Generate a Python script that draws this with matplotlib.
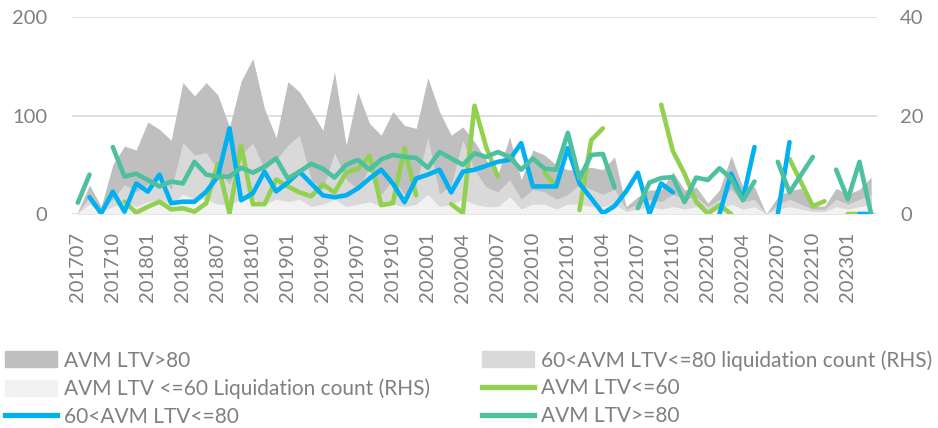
import numpy as np
import matplotlib
matplotlib.use("Agg")
import matplotlib.pyplot as plt
from matplotlib.patches import Patch
from matplotlib.lines import Line2D

plt.rcParams['font.family'] = ['Lato', 'DejaVu Sans']

nan = np.nan

# Tick labels (every third month from 201707)
tick_labels = ["201707", "201710", "201801", "201804", "201807", "201810",
               "201901", "201904", "201907", "201910", "202001", "202004",
               "202007", "202010", "202101", "202104", "202107", "202110",
               "202201", "202204", "202207", "202210", "202301"]

# Liquidation counts (RHS) - visible top of each area
area_ltv_gt80 = [0.5, 5.9, 1.5, 10, 13.8, 13, 18.7, 17.2, 15, 26.7, 24, 26.7, 24.2, 17.7,
                 27, 31.6, 21.4, 15.5, 26.9, 24.8, 21, 17, 28.9, 14, 24.8, 18.4, 16, 20.8,
                 18, 17.4, 27.7, 20.8, 16, 17.7, 14.7, 11, 8, 15.7, 7, 13, 12, 10, 9, 9,
                 9.5, 9, 11.6, 1.5, 3.5, 4.9, 4.9, 8.6, 4.9, 5.5, 2.2, 4.9, 11.8, 5.5, 5.5,
                 0, 3.5, 4.8, 5.2, 1.6, 1.6, 5.2, 4, 5, 7.5]
area_ltv_60_80 = [0.3, 3.5, 0.8, 3, 6, 4.5, 6, 8.5, 5, 14.5, 12, 12.5, 9, 6, 12, 14.5, 9,
                  11, 14, 16, 7, 5, 12.5, 7, 5, 9.5, 4, 7, 4, 6, 15.5, 4, 6, 15, 9, 5.5,
                  4.5, 7, 3, 5, 4.5, 3, 4, 6, 5, 4, 5, 1, 2, 3, 2.5, 4, 3, 3.5, 1.5, 3, 5,
                  2.5, 3, 0, 2, 3, 2, 1, 1, 3, 2, 3, 4]
area_ltv_le60 = [0.2, 2, 0.5, 1.5, 2.5, 1.5, 2.5, 3, 2, 4, 3, 3, 2, 2, 3, 3, 2, 3, 2.5, 3,
                 1.5, 2, 3, 1.5, 2, 2.5, 1.5, 2, 1.5, 2, 4, 1.5, 2, 3, 2, 1.5, 1.5, 3.5, 1,
                 2, 2, 1, 2, 2, 1.5, 1.5, 2, 0.5, 1, 1.5, 1, 1.5, 1, 1.5, 0.5, 1, 2, 1,
                 1.5, 0, 1, 1.5, 1, 0.5, 0.5, 1.5, 1, 1.5, 2]

# Lines (LHS)
line_ltv_le60 = [nan, nan, nan, nan, 12.5, 1.4, 7.4, 12.5, 4.7, 5.8, 2.4, 10.8, 51, 0.7,
                 69, 10, 10, 35, 28, 22, 18, 30, 22, 42, 46, 59, 9, 11, 67, 19, nan, nan,
                 10, 1, 110, 68, 38, nan, nan, nan, 42, 28, nan, 4, 75, 87, nan, nan, nan,
                 nan, 111, 64, 41, 12.5, 0.5, 9, 0, nan, nan, nan, nan, 56, 32, 8, 13, nan,
                 0, 0, nan]
line_ltv_60_80 = [nan, 17, 0.7, 22.7, 2.4, 31, 22.7, 40, 11, 12.5, 12.5, 22.7, 38, 87, 14,
                  21, 43, 23, 32, 43, 31, 19, 17, 19, 26, 36, 45, 31, 12, 36, 40, 45, 22,
                  43, 45, 49, 53, 55, 72, 28, 28, 28, 67, 31, 16, 0.7, 8, 23, 42, 0.5, 31,
                  22, nan, nan, nan, 0, 41, 15, 68, nan, 0, 73, nan, nan, nan, nan, nan,
                  0, 0]
line_ltv_ge80 = [11.5, 40, nan, 68, 38, 41, 34.5, 28, 33, 31, 53, 40, 38, 38, 47, 42, 48,
                 56.5, 36, 43, 51, 46, 37, 50, 55, 45, 55.5, 60, 58, 57, 47, 63, 56.5, 50,
                 61.6, 58, 63, 58, 45, 56.5, 46, 45, 82.5, 36, 60, 61, 27, nan, 6, 32,
                 36.5, 37.5, 12, 37, 34.5, 46.5, 36, 14, 33, nan, 53, 22, 40, 58, nan, 45,
                 15, 53, 0]

x = np.arange(len(area_ltv_gt80))

C_DARK = '#BFBFBF'
C_MED = '#D9D9D9'
C_LIGHT = '#F2F2F2'
C_GREEN = '#92D050'
C_BLUE = '#00B0F0'
C_TEAL = '#4DC0A0'
TXT = '#808080'
FS = 14.5
LFS = 15
LW = 3.3

fig = plt.figure(figsize=(9.38, 4.28), dpi=100)
ax2 = fig.add_axes([72 / 938, 0.5, (877 - 72) / 938, 0.46])
ax1 = ax2.twinx()
ax1.set_zorder(ax2.get_zorder() + 1)
ax1.patch.set_visible(False)

# Areas on the right axis
ax2.fill_between(x, 0, area_ltv_gt80, color=C_DARK, lw=0)
ax2.fill_between(x, 0, area_ltv_60_80, color=C_MED, lw=0)
ax2.fill_between(x, 0, area_ltv_le60, color=C_LIGHT, lw=0)
ax2.set_ylim(0, 40)
ax2.set_yticks([0, 20, 40])
ax2.set_axisbelow(True)
ax2.grid(axis='y', color='#D9D9D9', lw=1.2)
ax2.grid(axis='x', visible=False)

# Lines on the left axis
kw = dict(lw=LW, solid_capstyle='round', solid_joinstyle='round')
ax1.plot(x, line_ltv_le60, color=C_GREEN, **kw)
ax1.plot(x, line_ltv_60_80, color=C_BLUE, **kw)
ax1.plot(x, line_ltv_ge80, color=C_TEAL, **kw)
ax1.set_ylim(0, 200)
ax1.set_yticks([0, 100, 200])

ax2.set_xlim(-0.5, len(x) - 0.5)
ax2.set_xticks(np.arange(0, len(x), 3))
ax2.set_xticklabels(tick_labels, rotation=90, va='top', ha='center')

for a in (ax1, ax2):
    for s in a.spines.values():
        s.set_visible(False)
    a.tick_params(length=0, labelsize=FS, labelcolor=TXT)

ax1.tick_params(axis='y', left=True, labelleft=True, right=False, labelright=False, pad=18)
ax2.tick_params(axis='y', left=False, labelleft=False, right=True, labelright=True, pad=16.5)
ax2.tick_params(axis='x', pad=13)

handles = [Patch(color=C_DARK), Patch(color=C_LIGHT),
           Line2D([], [], color=C_BLUE, lw=LW + 0.5),
           Patch(color=C_MED),
           Line2D([], [], color=C_GREEN, lw=LW + 0.5),
           Line2D([], [], color=C_TEAL, lw=LW + 0.5)]
labels = ["AVM LTV>80", "AVM LTV <=60 Liquidation count (RHS)", "60<AVM LTV<=80",
          "60<AVM LTV<=80 liquidation count (RHS)", "AVM LTV<=60", "AVM LTV>=80"]
leg = fig.legend(handles, labels, ncol=2, loc='upper left',
                 bbox_to_anchor=(5 / 938, 1 - 350 / 428), frameon=False,
                 fontsize=LFS, handlelength=2.5, handleheight=0.8, handletextpad=0.35,
                 columnspacing=2.45, labelspacing=0.375, borderpad=0, borderaxespad=0)
for t in leg.get_texts():
    t.set_color(TXT)

fig.savefig('out.png', dpi=100)
